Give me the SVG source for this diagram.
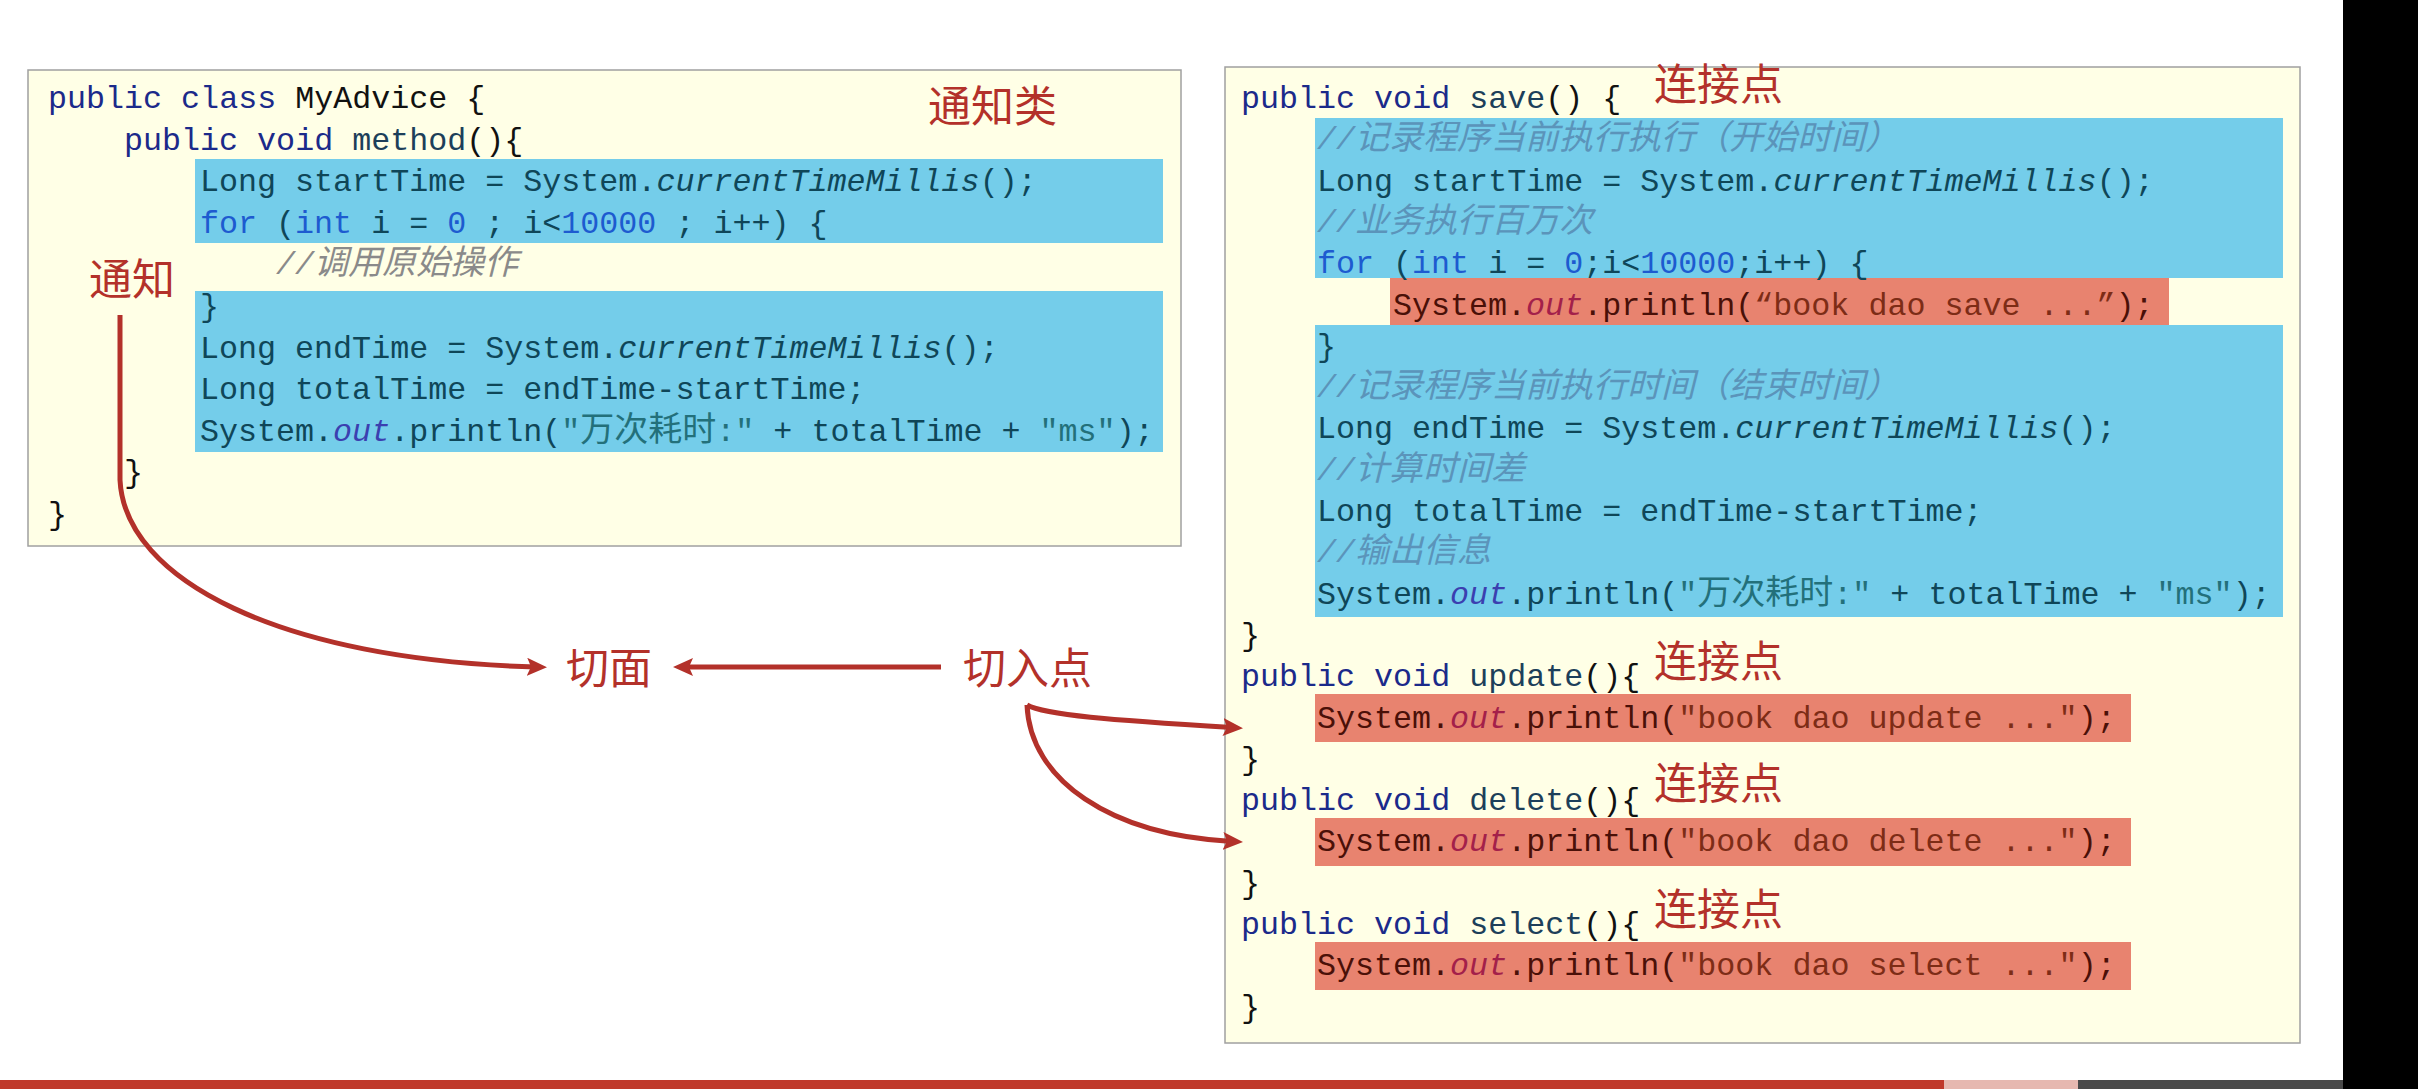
<svg xmlns="http://www.w3.org/2000/svg" width="2418" height="1089" viewBox="0 0 2418 1089">
<style>
.box{fill:#FFFFE6;stroke:#A0A0A0;stroke-width:1.5}
.hb{fill:#74CDEA}
.hr{fill:#E8836F}
.code{font-family:"Liberation Mono","Noto Sans CJK SC",monospace;font-size:31.7px;white-space:pre;fill:#111}
.kw{fill:#1B2A8A}
.nm{fill:#1D3F5A}
.bt{fill:#0F4658}
.bl{fill:#1D5BD0}
.it{font-style:italic}
.cm{fill:#5B94BA;font-style:italic}
.cmg{fill:#8A8A8A;font-style:italic}
.st{fill:#23707A}
.ou{fill:#3B3FB0;font-style:italic}
.rt{fill:#4A1008}
.ro{fill:#A3204A;font-style:italic}
.rs{fill:#7D2C16}
.cj{font-family:"Noto Sans CJK SC",sans-serif;font-size:34px}
.lbl{font-family:"Noto Sans CJK SC",sans-serif;font-size:43px;fill:#B3312A}
.conn{fill:none;stroke:#B3312A;stroke-width:5}
</style>
<defs>
<marker id="ah" viewBox="0 0 20 18" refX="9" refY="9" markerWidth="20" markerHeight="18" markerUnits="userSpaceOnUse" orient="auto">
<path d="M0,0 L20,9 L0,18 L4,9 z" fill="#B3312A"/>
</marker>
</defs>
<rect x="0" y="0" width="2418" height="1089" fill="#FFFFFF"/>

<g id="advice-class">
<rect class="box" x="28" y="70" width="1153" height="476"/>
<rect class="hb" x="195" y="159" width="968" height="84"/>
<rect class="hb" x="195" y="291" width="968" height="161"/>
<text class="code" x="48" y="108"><tspan class="kw">public class</tspan> MyAdvice {</text>
<text class="code" x="124" y="149.6"><tspan class="kw">public void</tspan> <tspan class="nm">method</tspan>(){</text>
<text class="code bt" x="200" y="191.2">Long startTime = System.<tspan class="it">currentTimeMillis</tspan>();</text>
<text class="code bt" x="200" y="232.8"><tspan class="bl">for</tspan> (<tspan class="bl">int</tspan> i = <tspan class="bl">0</tspan> ; i&lt;<tspan class="bl">10000</tspan> ; i++) {</text>
<text class="code cmg" x="276" y="274.4">//<tspan class="cj">调用原始操作</tspan></text>
<text class="code bt" x="200" y="316">}</text>
<text class="code bt" x="200" y="357.6">Long endTime = System.<tspan class="it">currentTimeMillis</tspan>();</text>
<text class="code bt" x="200" y="399.2">Long totalTime = endTime-startTime;</text>
<text class="code bt" x="200" y="440.8">System.<tspan class="ou">out</tspan>.println(<tspan class="st">"<tspan class="cj">万次耗时</tspan>:"</tspan> + totalTime + <tspan class="st">"ms"</tspan>);</text>
<text class="code" x="124" y="482.4">}</text>
<text class="code" x="48" y="524">}</text>
</g>

<g id="target-methods">
<rect class="box" x="1225" y="67" width="1075" height="976"/>
<rect class="hb" x="1315" y="118" width="968" height="160"/>
<rect class="hr" x="1390" y="278" width="779" height="47"/>
<rect class="hb" x="1315" y="325" width="968" height="292"/>
<rect class="hr" x="1315" y="694" width="816" height="48"/>
<rect class="hr" x="1315" y="818" width="816" height="48"/>
<rect class="hr" x="1315" y="942" width="816" height="48"/>
<text class="code" x="1241" y="108"><tspan class="kw">public void</tspan> <tspan class="nm">save</tspan>() {</text>
<text class="code cm" x="1317" y="149.3">//<tspan class="cj">记录程序当前执行执行（开始时间）</tspan></text>
<text class="code bt" x="1317" y="190.6">Long startTime = System.<tspan class="it">currentTimeMillis</tspan>();</text>
<text class="code cm" x="1317" y="231.9">//<tspan class="cj">业务执行百万次</tspan></text>
<text class="code bt" x="1317" y="273.2"><tspan class="bl">for</tspan> (<tspan class="bl">int</tspan> i = <tspan class="bl">0</tspan>;i&lt;<tspan class="bl">10000</tspan>;i++) {</text>
<text class="code rt" x="1393" y="314.5">System.<tspan class="ro">out</tspan>.println(<tspan class="rs">“book dao save ...”</tspan>);</text>
<text class="code bt" x="1317" y="355.8">}</text>
<text class="code cm" x="1317" y="397.1">//<tspan class="cj">记录程序当前执行时间（结束时间）</tspan></text>
<text class="code bt" x="1317" y="438.4">Long endTime = System.<tspan class="it">currentTimeMillis</tspan>();</text>
<text class="code cm" x="1317" y="479.7">//<tspan class="cj">计算时间差</tspan></text>
<text class="code bt" x="1317" y="521">Long totalTime = endTime-startTime;</text>
<text class="code cm" x="1317" y="562.3">//<tspan class="cj">输出信息</tspan></text>
<text class="code bt" x="1317" y="603.6">System.<tspan class="ou">out</tspan>.println(<tspan class="st">"<tspan class="cj">万次耗时</tspan>:"</tspan> + totalTime + <tspan class="st">"ms"</tspan>);</text>
<text class="code" x="1241" y="644.9">}</text>
<text class="code" x="1241" y="686.2"><tspan class="kw">public void</tspan> <tspan class="nm">update</tspan>(){</text>
<text class="code rt" x="1317" y="727.5">System.<tspan class="ro">out</tspan>.println(<tspan class="rs">"book dao update ..."</tspan>);</text>
<text class="code" x="1241" y="768.8">}</text>
<text class="code" x="1241" y="810.1"><tspan class="kw">public void</tspan> <tspan class="nm">delete</tspan>(){</text>
<text class="code rt" x="1317" y="851.4">System.<tspan class="ro">out</tspan>.println(<tspan class="rs">"book dao delete ..."</tspan>);</text>
<text class="code" x="1241" y="892.7">}</text>
<text class="code" x="1241" y="934"><tspan class="kw">public void</tspan> <tspan class="nm">select</tspan>(){</text>
<text class="code rt" x="1317" y="975.3">System.<tspan class="ro">out</tspan>.println(<tspan class="rs">"book dao select ..."</tspan>);</text>
<text class="code" x="1241" y="1016.6">}</text>
</g>

<g id="label-advice-class"><text class="lbl" x="928" y="122">通知类</text></g>
<g id="label-advice"><text class="lbl" x="89" y="295">通知</text></g>
<g id="label-aspect"><text class="lbl" x="566" y="684">切面</text></g>
<g id="label-pointcut"><text class="lbl" x="963" y="684">切入点</text></g>
<g id="label-joinpoint-save"><text class="lbl" x="1654" y="100">连接点</text></g>
<g id="label-joinpoint-update"><text class="lbl" x="1654" y="677">连接点</text></g>
<g id="label-joinpoint-delete"><text class="lbl" x="1654" y="799">连接点</text></g>
<g id="label-joinpoint-select"><text class="lbl" x="1654" y="925">连接点</text></g>

<g id="connectors">
<path class="conn" d="M120,315 L120,480 C125,580 280,660 536,667" marker-end="url(#ah)"/>
<path class="conn" d="M941,667 L684,667" marker-end="url(#ah)"/>
<path class="conn" d="M1027,705 C1045,715 1110,720 1232,727.5" marker-end="url(#ah)"/>
<path class="conn" d="M1027,705 C1030,780 1110,835 1232,841.5" marker-end="url(#ah)"/>
</g>

<rect x="2343" y="0" width="75" height="1089" fill="#000000"/>
<rect x="0" y="1080" width="1944" height="9" fill="#C0392B"/>
<rect x="1944" y="1080" width="134" height="9" fill="#E6B8B0"/>
<rect x="2078" y="1080" width="265" height="9" fill="#4A4A4A"/>
</svg>
